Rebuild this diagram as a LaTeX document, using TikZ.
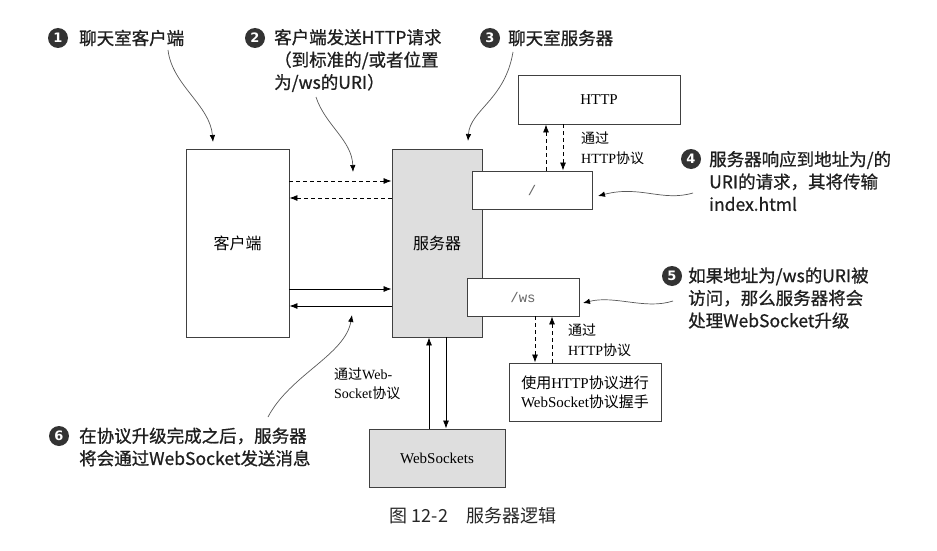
\documentclass[tikz,border=0pt]{standalone}
\usepackage{fontspec}
\setmainfont{Liberation Serif}
\setmonofont{Liberation Mono}
\newfontfamily\zhfont{Noto Sans CJK SC}
\newfontfamily\annfont[FakeBold=0.8]{Noto Sans CJK SC}
\newfontfamily\numfont{DejaVu Sans}
\usetikzlibrary{arrows.meta}
\newcommand\zh[1]{{\zhfont #1}}
\begin{document}
\begin{tikzpicture}[x=1pt,y=-1pt,
  box/.style={draw=black!75,line width=0.9pt,fill=white,inner sep=0pt,font=\fontsize{15}{19}\selectfont,align=center},
  graybox/.style={box,fill=black!13},
  mono/.style={box,font=\ttfamily\fontsize{14}{14}\selectfont,text=black!60},
  ann/.style={font=\annfont\fontsize{17.5}{22.5}\selectfont,anchor=west,align=left,inner sep=0pt,text=black!88},
  num/.style={circle,fill=black!80,text=white,minimum size=20pt,inner sep=0pt,font=\numfont\bfseries\fontsize{13}{13}\selectfont},
  lbl/.style={font=\fontsize{14}{19.5}\selectfont,anchor=west,align=left,inner sep=0pt},
  arr/.style={draw=black,line width=0.8pt,-{Latex[length=8pt,width=6pt]}},
  darr/.style={arr,dashed,dash pattern=on 4pt off 3pt},
  pointer/.style={draw=black!65,line width=0.7pt,-{Latex[length=7pt,width=5.5pt,color=black]}}
]
\useasboundingbox[fill=white] (0,0) rectangle (937,551);

% boxes
\node[box,minimum width=103pt,minimum height=188pt,font=\zhfont\fontsize{16}{19}\selectfont] (client) at (237.5,243) {客户端};
\node[graybox,minimum width=90pt,minimum height=188pt,font=\zhfont\fontsize{16}{19}\selectfont] (server) at (437,243) {服务器};
\node[box,minimum width=162pt,minimum height=49pt] (http) at (599,99.5) {HTTP};
\node[mono,minimum width=120pt,minimum height=38pt] (slash) at (532,190) {/};
\node[mono,minimum width=112pt,minimum height=38pt] (ws) at (523,297) {/ws};
\node[box,minimum width=152pt,minimum height=58pt] (hs) at (585,392) {\zh{使用}HTTP\zh{协议进行}\\WebSocket\zh{协议握手}};
\node[graybox,minimum width=136pt,minimum height=58pt] (wsk) at (437,458) {WebSockets};

% client <-> server
\draw[darr] (client.east |- 0,181) -- (server.west |- 0,181);
\draw[darr] (server.west |- 0,198) -- (client.east |- 0,198);
\draw[arr] (client.east |- 0,289) -- (server.west |- 0,289);
\draw[arr] (server.west |- 0,306) -- (client.east |- 0,306);

% slash <-> http
\draw[darr] (slash.north -| 546,0) -- (http.south -| 546,0);
\draw[darr] (http.south -| 563,0) -- (slash.north -| 563,0);
\node[lbl] (l1) at (581,148) {\zh{通过}\\HTTP\zh{协议}};

% ws <-> handshake
\draw[darr] (ws.south -| 535,0) -- (hs.north -| 535,0);
\draw[darr] (hs.north -| 552,0) -- (ws.south -| 552,0);
\node[lbl] (l2) at (568,340) {\zh{通过}\\HTTP\zh{协议}};

% server <-> websockets
\draw[arr] (wsk.north -| 429,0) -- (server.south -| 429,0);
\draw[arr] (server.south -| 446,0) -- (wsk.north -| 446,0);
\node[lbl] (l3) at (334,383.5) {\zh{通过}Web-\\Socket\zh{协议}};

% annotations
\node[num] (n1) at (58,38) {1};
\node[ann] (a1) at (79,38) {聊天室客户端};
\node[num] (n2) at (255,38) {2};
\node[ann] (a2) at (274,60.5) {客户端发送HTTP请求\\（到标准的/或者位置\\为/ws的URI）};
\node[num] (n3) at (490,38) {3};
\node[ann] (a3) at (508,38) {聊天室服务器};
\node[num] (n4) at (691,159) {4};
\node[ann] (a4) at (709,181) {服务器响应到地址为/的\\URI的请求，其将传输\\index.html};
\node[num] (n5) at (672,276) {5};
\node[ann] (a5) at (688,298) {如果地址为/ws的URI被\\访问，那么服务器将会\\处理WebSocket升级};
\node[num] (n6) at (59,436) {6};
\node[ann] (a6) at (79,447) {在协议升级完成之后，服务器\\将会通过WebSocket发送消息};

% pointer coordinates
\coordinate (p1s) at (168,50);  \coordinate (p1e) at (213,142);
\coordinate (p2s) at (316,97);  \coordinate (p2e) at (353,172);
\coordinate (p3s) at (513,52);  \coordinate (p3e) at (468,141);
\coordinate (p4s) at (693,193); \coordinate (p4e) at (598,196);
\coordinate (p5s) at (673,301); \coordinate (p5e) at (583,303);
\coordinate (p6s) at (268,417); \coordinate (p6e) at (352,315);

\draw[pointer] (p1s) .. controls (172,85) and (210,105) .. (p1e);
\draw[pointer] (p2s) .. controls (325,125) and (352,140) .. (p2e);
\draw[pointer] (p3s) .. controls (505,100) and (470,110) .. (p3e);
\draw[pointer] (p4s) .. controls (662,202) and (640,185) .. (p4e);
\draw[pointer] (p5s) .. controls (645,310) and (615,295) .. (p5e);
\draw[pointer] (p6s) .. controls (290,375) and (345,355) .. (p6e);

% caption
\node[font=\zhfont\fontsize{18}{18}\selectfont,text=black!85] (cap) at (473,516) {图 12-2　服务器逻辑};
\end{tikzpicture}
\end{document}
